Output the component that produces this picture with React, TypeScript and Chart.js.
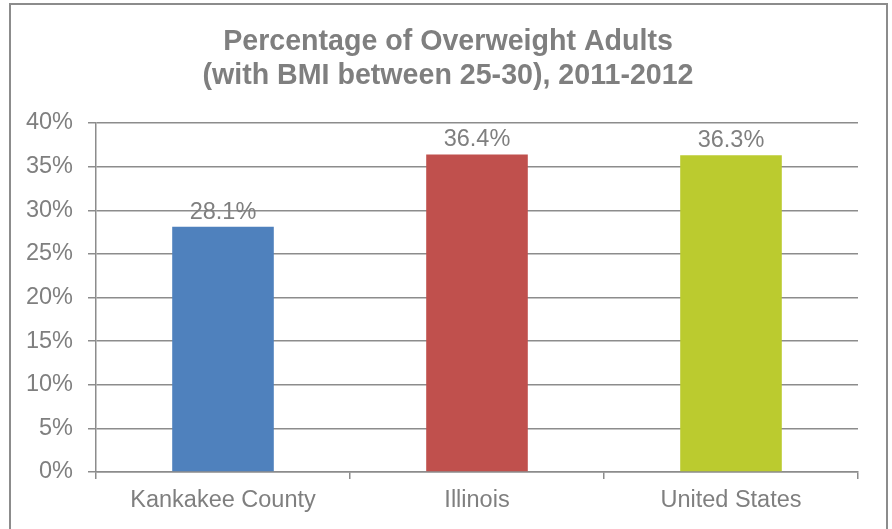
import React, { useEffect, useRef } from "react";
import { Chart, registerables } from "chart.js";

Chart.register(...registerables);

const categories = ["Kankakee County", "Illinois", "United States"];
const values = [28.1, 36.4, 36.3];
const barColors = ["#4F81BD", "#C0504D", "#BBCB2F"];
const titleLines = ["Percentage of Overweight Adults", "(with BMI between 25-30), 2011-2012"];
const yMax = 40;
const yStep = 5;

const FONT = '"Liberation Sans", Arial, Helvetica, sans-serif';
const TEXT = "#7f7f7f";
const LINE = "#8c8c8c";

const framePlugin = {
  id: "frame",
  beforeDraw(chart: any) {
    const ctx = chart.ctx;
    ctx.save();
    ctx.fillStyle = "#ffffff";
    ctx.fillRect(0, 0, chart.width, chart.height);
    ctx.strokeStyle = LINE;
    ctx.lineWidth = 2;
    ctx.strokeRect(10, 4, 877, 600);
    ctx.restore();
  },
  afterDraw(chart: any) {
    const ctx = chart.ctx;
    ctx.save();
    ctx.fillStyle = TEXT;
    ctx.font = `bold 28.6px ${FONT}`;
    ctx.textAlign = "center";
    ctx.textBaseline = "alphabetic";
    ctx.fillText(titleLines[0], 448, 50);
    ctx.fillText(titleLines[1], 448, 83.5);
    ctx.restore();
  },
};

const labelPlugin = {
  id: "barLabels",
  afterDatasetsDraw(chart: any) {
    const ctx = chart.ctx;
    const meta = chart.getDatasetMeta(0);
    ctx.save();
    ctx.fillStyle = TEXT;
    ctx.font = `23.5px ${FONT}`;
    ctx.textAlign = "center";
    ctx.textBaseline = "alphabetic";
    meta.data.forEach((bar: any, i: number) => {
      ctx.fillText(values[i].toFixed(1) + "%", bar.x, bar.y - 8);
    });
    ctx.restore();
  },
};

export default function App() {
  const ref = useRef<HTMLCanvasElement>(null);
  useEffect(() => {
    if (!ref.current) return;
    const chart = new Chart(ref.current, {
      type: "bar",
      data: {
        labels: categories,
        datasets: [
          {
            data: values,
            backgroundColor: barColors,
            borderWidth: 0,
            barPercentage: 0.4,
            categoryPercentage: 1.0,
          },
        ],
      },
      options: {
        animation: false,
        responsive: false,
        devicePixelRatio: 1,
        layout: { padding: { left: 0, right: 34, top: 123, bottom: 0 } },
        plugins: {
          legend: { display: false },
          title: { display: false },
          tooltip: { enabled: false },
        },
        scales: {
          x: {
            offset: true,
            grid: {
              offset: true,
              drawOnChartArea: false,
              drawTicks: true,
              tickLength: 7,
              color: LINE,
              lineWidth: 1.5,
            },
            border: { display: true, color: LINE, width: 1.5 },
            ticks: {
              color: TEXT,
              font: { family: FONT, size: 23.5 },
              padding: 7,
              maxRotation: 0,
              autoSkip: false,
            },
            afterFit(scale: any) {
              scale.height = 57;
            },
          },
          y: {
            min: 0,
            max: yMax,
            grid: {
              color: LINE,
              lineWidth: 1.5,
              tickLength: 8,
              drawTicks: true,
            },
            border: { display: true, color: LINE, width: 1.5 },
            ticks: {
              stepSize: yStep,
              color: TEXT,
              font: { family: FONT, size: 23.5 },
              padding: 15,
              callback: (v: any) => v + "%",
            },
            afterFit(scale: any) {
              scale.width = 96;
            },
          },
        },
      },
      plugins: [framePlugin, labelPlugin],
    });
    return () => chart.destroy();
  }, []);
  return (
    <div style={{ position: "absolute", left: 0, top: 0, width: 892, height: 529, background: "#fff" }}>
      <canvas ref={ref} width={892} height={529} style={{ display: "block" }} />
    </div>
  );
}
